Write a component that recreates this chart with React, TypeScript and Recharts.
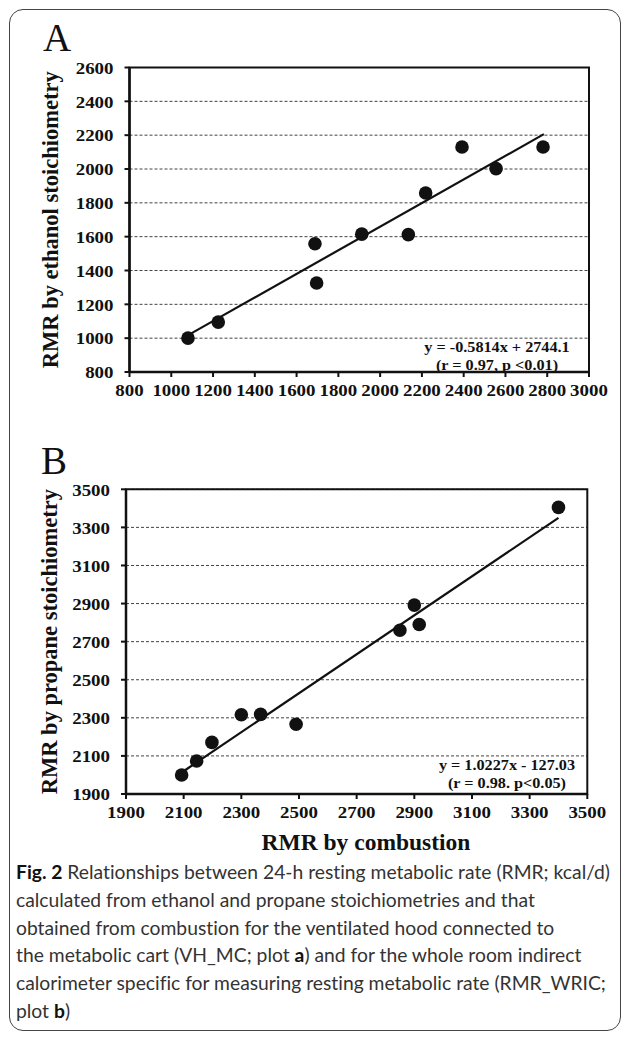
import React from 'react'
import {
  ScatterChart,
  Scatter,
  XAxis,
  YAxis,
  CartesianGrid,
  ReferenceLine,
  ReferenceArea,
  Label,
} from 'recharts'

// plot A: ventilated hood (VH_MC)
const xTicksA = [800, 1000, 1200, 1400, 1600, 1800, 2000, 2200, 2400, 2600, 2800, 3000]
const yTicksA = [800, 1000, 1200, 1400, 1600, 1800, 2000, 2200, 2400, 2600]
const combustionA = [1080, 1225, 1688, 1696, 1912, 2135, 2218, 2392, 2555, 2780]
const ethanolA = [1000, 1095, 1558, 1326, 1615, 1612, 1858, 2130, 2002, 2130]
const fitXA = [1081, 2784]
const fitYA = [1018, 2206]

// plot B: whole room calorimeter (RMR_WRIC)
const xTicksB = [1900, 2100, 2300, 2500, 2700, 2900, 3100, 3300, 3500]
const yTicksB = [1900, 2100, 2300, 2500, 2700, 2900, 3100, 3300, 3500]
const combustionB = [2093, 2145, 2198, 2300, 2367, 2490, 2850, 2900, 2917, 3400]
const propaneB = [2000, 2073, 2171, 2316, 2318, 2266, 2760, 2892, 2790, 3405]
const fitXB = [2102, 3400]
const fitYB = [2022, 3350]

const serif = '"Liberation Serif", "Times New Roman", serif'
const ink = '#111'

// the source figure is slightly stretched sideways, so the tick text is too
function XTick(props: any) {
  const { x, y, payload } = props
  return (
    <g transform={`translate(${x},${y}) scale(1.08,1)`}>
      <text x={0} y={0} dy="0.71em" textAnchor="middle" fontFamily={serif} fontWeight={700} fontSize={17.5} fill={ink}>
        {payload.value}
      </text>
    </g>
  )
}

function YTick(props: any) {
  const { x, y, payload } = props
  return (
    <g transform={`translate(${x},${y}) scale(1.08,1)`}>
      <text x={0} y={0} dy="0.355em" textAnchor="end" fontFamily={serif} fontWeight={700} fontSize={17.5} fill={ink}>
        {payload.value}
      </text>
    </g>
  )
}

function Dot(props: any) {
  return <circle cx={props.cx} cy={props.cy} r={6.8} fill={ink} />
}

function yTitle(text: string) {
  return (props: any) => {
    const vb = props.viewBox
    const cx = 50
    const cy = vb.y + vb.height / 2
    return (
      <text
        x={cx}
        y={cy}
        transform={`rotate(-90 ${cx} ${cy})`}
        textAnchor="middle"
        dominantBaseline="central"
        fontFamily={serif}
        fontWeight={700}
        fontSize={22.5}
        fill={ink}
      >
        {text}
      </text>
    )
  }
}

function xTitle(text: string) {
  return (props: any) => {
    const vb = props.viewBox
    return (
      <text
        x={366}
        y={vb.y + 48}
        textAnchor="middle"
        dominantBaseline="central"
        fontFamily={serif}
        fontWeight={700}
        fontSize={23.5}
        fill={ink}
      >
        {text}
      </text>
    )
  }
}

interface PanelProps {
  xs: number[]
  ys: number[]
  fitX: number[]
  fitY: number[]
  xTicks: number[]
  yTicks: number[]
  yLabel: string
  xLabel?: string
  width: number
  height: number
  margin: { top: number; right: number; left: number; bottom: number }
  yAxisWidth: number
  xAxisHeight: number
}

function Panel(p: PanelProps) {
  const data = p.xs.map((x, i) => ({ x, y: p.ys[i] }))
  const x0 = p.xTicks[0]
  const x1 = p.xTicks[p.xTicks.length - 1]
  const y0 = p.yTicks[0]
  const y1 = p.yTicks[p.yTicks.length - 1]
  return (
    <ScatterChart width={p.width} height={p.height} margin={p.margin}>
      <CartesianGrid
        horizontal
        vertical={false}
        strokeDasharray="3 2"
        stroke="#444"
        strokeWidth={1}
      />
      <ReferenceArea x1={x0} x2={x1} y1={y0} y2={y1} fill="none" stroke={ink} strokeWidth={2} />
      <XAxis
        type="number"
        dataKey="x"
        domain={[x0, x1]}
        ticks={p.xTicks}
        interval={0}
        height={p.xAxisHeight}
        tick={<XTick />}
        tickSize={5}
        tickMargin={7}
        tickLine={{ stroke: ink, strokeWidth: 2 }}
        axisLine={{ stroke: ink, strokeWidth: 2.5 }}
      >
        {p.xLabel ? <Label content={xTitle(p.xLabel)} /> : null}
      </XAxis>
      <YAxis
        type="number"
        dataKey="y"
        domain={[y0, y1]}
        ticks={p.yTicks}
        interval={0}
        width={p.yAxisWidth}
        tick={<YTick />}
        tickSize={5}
        tickMargin={11}
        tickLine={{ stroke: ink, strokeWidth: 2 }}
        axisLine={{ stroke: ink, strokeWidth: 2.5 }}
      >
        <Label content={yTitle(p.yLabel)} />
      </YAxis>
      <ReferenceLine
        segment={[
          { x: p.fitX[0], y: p.fitY[0] },
          { x: p.fitX[1], y: p.fitY[1] },
        ]}
        stroke={ink}
        strokeWidth={2.2}
        ifOverflow="visible"
      />
      <Scatter data={data} shape={Dot} isAnimationActive={false} />
    </ScatterChart>
  )
}

const eqStyle: React.CSSProperties = {
  position: 'absolute',
  width: 220,
  textAlign: 'center',
  fontFamily: serif,
  fontWeight: 700,
  fontSize: 15,
  lineHeight: '18.5px',
  color: ink,
  whiteSpace: 'nowrap',
  transform: 'scaleX(1.08)',
  transformOrigin: 'center',
}

const letterStyle: React.CSSProperties = {
  position: 'absolute',
  fontFamily: serif,
  fontSize: 39,
  lineHeight: 1,
  color: ink,
}

export default function App() {
  return (
    <div
      style={{
        position: 'absolute',
        left: 0,
        top: 0,
        width: 627,
        height: 1038,
        background: '#fff',
        overflow: 'hidden',
      }}
    >
      <div
        style={{
          position: 'absolute',
          left: 9,
          top: 9,
          width: 610,
          height: 1020,
          border: '1.5px solid #444',
          borderRadius: 14,
        }}
      />

      <div style={{ ...letterStyle, left: 43, top: 18 }}>A</div>
      <div style={{ position: 'absolute', left: 0, top: 0 }}>
        <Panel
          xs={combustionA}
          ys={ethanolA}
          fitX={fitXA}
          fitY={fitYA}
          xTicks={xTicksA}
          yTicks={yTicksA}
          yLabel="RMR by ethanol stoichiometry"
          width={627}
          height={412}
          margin={{ top: 67.5, right: 38, left: 0, bottom: 0 }}
          yAxisWidth={129.5}
          xAxisHeight={40}
        />
      </div>
      <div style={{ ...eqStyle, left: 387, top: 337.5 }}>
        y = -0.5814x + 2744.1
        <br />
        (r = 0.97, p &lt;0.01)
      </div>

      <div style={{ ...letterStyle, left: 41, top: 441 }}>B</div>
      <div style={{ position: 'absolute', left: 0, top: 420 }}>
        <Panel
          xs={combustionB}
          ys={propaneB}
          fitX={fitXB}
          fitY={fitYB}
          xTicks={xTicksB}
          yTicks={yTicksB}
          yLabel="RMR by propane stoichiometry"
          xLabel="RMR by combustion"
          width={627}
          height={436}
          margin={{ top: 69.3, right: 39.7, left: 0, bottom: 0 }}
          yAxisWidth={126}
          xAxisHeight={62}
        />
      </div>
      <div style={{ ...eqStyle, left: 397, top: 755.5 }}>
        y = 1.0227x - 127.03
        <br />
        (r = 0.98. p&lt;0.05)
      </div>

      <div
        style={{
          position: 'absolute',
          left: 16,
          top: 858,
          fontFamily: 'Lato, "Open Sans", sans-serif',
          fontSize: 19.3,
          lineHeight: '27.8px',
          color: '#333',
          whiteSpace: 'nowrap',
          fontVariantLigatures: 'none',
        }}
      >
        <b style={{ color: '#111' }}>Fig. 2</b> Relationships between 24-h resting metabolic rate (RMR; kcal/d)
        <br />
        calculated from ethanol and propane stoichiometries and that
        <br />
        obtained from combustion for the ventilated hood connected to
        <br />
        the metabolic cart (VH_MC; plot <b style={{ color: '#111' }}>a</b>) and for the whole room indirect
        <br />
        calorimeter specific for measuring resting metabolic rate (RMR_WRIC;
        <br />
        plot <b style={{ color: '#111' }}>b</b>)
      </div>
    </div>
  )
}
